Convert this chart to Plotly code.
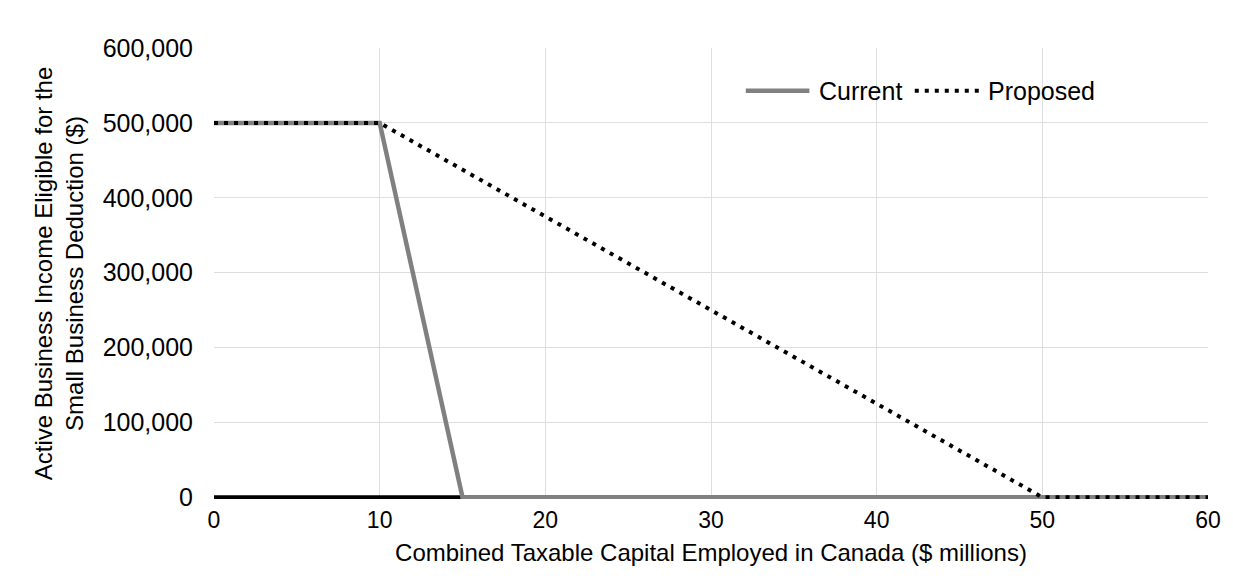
import plotly.graph_objects as go

# Taxable capital (in $ millions) and eligible business income ($)
capital_current = [0, 10, 15, 60]
income_current = [500000, 500000, 0, 0]
capital_proposed = [0, 10, 50, 60]
income_proposed = [500000, 500000, 0, 0]

x_ticks = [0, 10, 20, 30, 40, 50, 60]
y_ticks = [0, 100000, 200000, 300000, 400000, 500000, 600000]

series_names = ["Current", "Proposed"]

FONT = "Liberation Sans, Arial, sans-serif"
CURRENT_LINE = dict(color="#808080", width=4.5)
PROPOSED_LINE = dict(color="#000000", width=4, dash="4px,6px")

# y range reaches a little below zero so the lines on the baseline are not clipped
Y_MIN, Y_MAX = -2300, 600000

fig = go.Figure()
fig.add_trace(go.Scatter(
    x=capital_current, y=income_current, mode="lines", name=series_names[0],
    line=CURRENT_LINE, showlegend=False,
))
fig.add_trace(go.Scatter(
    x=capital_proposed, y=income_proposed, mode="lines", name=series_names[1],
    line=PROPOSED_LINE, showlegend=False,
))

# Legend: long line samples with labels, placed in paper coordinates
legend_y = 0.905
legend_items = [
    (0.535, 0.599, 0.607, series_names[0], CURRENT_LINE),
    (0.705, 0.770, 0.777, series_names[1], PROPOSED_LINE),
]
shapes = [
    # black baseline along the horizontal axis: above the grid, beneath the lines
    dict(type="line", xref="x", yref="y", x0=0, x1=60, y0=0, y1=0,
         line=dict(color="#000000", width=4), layer="between"),
]
annotations = []
for x0, x1, xt, label, style in legend_items:
    shapes.append(dict(type="line", xref="paper", yref="paper",
                       x0=x0, x1=x1, y0=legend_y, y1=legend_y, line=style))
    annotations.append(dict(text=label, xref="paper", yref="paper", x=xt,
                            y=legend_y, xanchor="left", yanchor="middle",
                            showarrow=False, font=dict(family=FONT, size=25)))

fig.update_layout(
    width=1233, height=578,
    margin=dict(l=214, r=21, t=48, b=79),
    paper_bgcolor="white", plot_bgcolor="white",
    font=dict(family=FONT, size=23, color="#000000"),
    showlegend=False,
    shapes=shapes,
    annotations=annotations,
    xaxis=dict(
        range=[0, 60], tickvals=x_ticks, ticktext=[str(v) for v in x_ticks],
        showgrid=True, gridcolor="#dedede", gridwidth=1.3,
        zeroline=False, showline=False, ticks="",
        layer="below traces", ticklabelstandoff=5,
        title=dict(text="Combined Taxable Capital Employed in Canada ($ millions)",
                   font=dict(family=FONT, size=24), standoff=12),
        tickfont=dict(family=FONT, size=23),
    ),
    yaxis=dict(
        range=[Y_MIN, Y_MAX], tickvals=y_ticks,
        ticktext=[f"{v:,}" for v in y_ticks],
        showgrid=True, gridcolor="#dedede", gridwidth=1.3,
        zeroline=False, showline=False, ticks="",
        layer="below traces", ticklabelstandoff=20,
        title=dict(text="Active Business Income Eligible for the<br>Small Business Deduction ($)",
                   font=dict(family=FONT, size=24), standoff=12),
        tickfont=dict(family=FONT, size=25),
    ),
)

fig.write_html("out.html")
